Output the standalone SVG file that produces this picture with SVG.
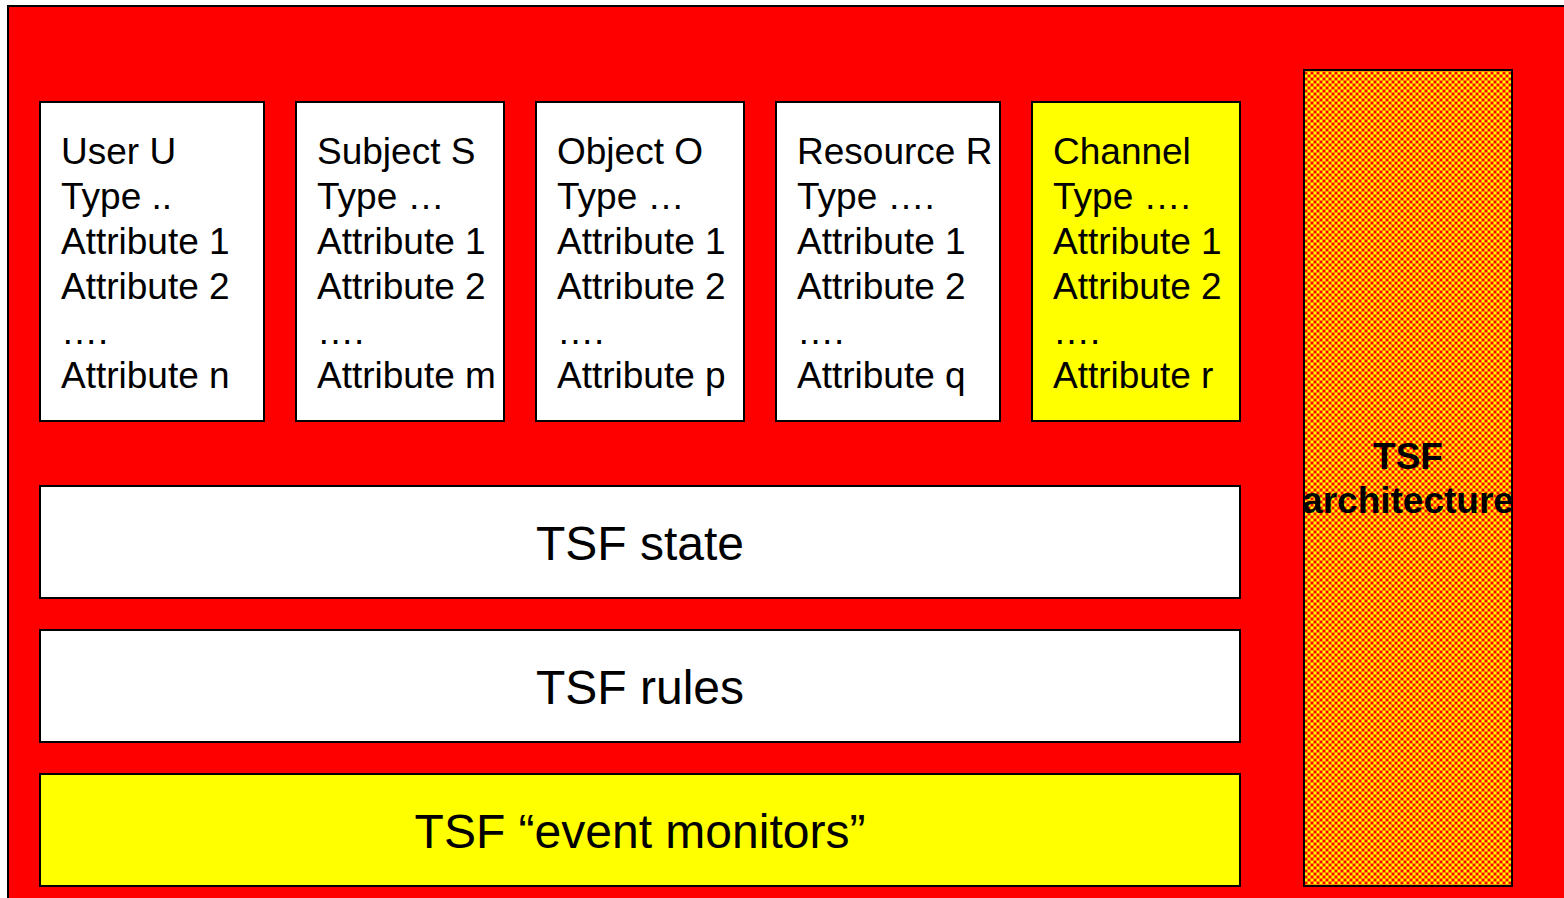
<svg xmlns="http://www.w3.org/2000/svg" width="1564" height="898" viewBox="0 0 1564 898">
<style>
.box{stroke:#000;stroke-width:2}
.w{fill:#fff}
.y{fill:#ffff00}
.t{font-family:"Liberation Sans",Arial,sans-serif;font-size:37px;fill:#000}
.big{font-family:"Liberation Sans",Arial,sans-serif;font-size:48px;fill:#000;text-anchor:middle}
.arch{font-family:"Liberation Sans",Arial,sans-serif;font-size:37px;font-weight:bold;fill:#000;text-anchor:middle}
</style>
<defs>
<pattern id="chk" width="6" height="6" patternUnits="userSpaceOnUse">
<rect width="6" height="6" fill="#ff8800"/>
<rect x="0" y="0" width="2" height="2" fill="#ffff00"/>
<rect x="3" y="3" width="2" height="2" fill="#ffff00"/>
<rect x="3" y="0" width="2" height="2" fill="#ff0000"/>
<rect x="0" y="3" width="2" height="2" fill="#ff0000"/>
</pattern>
</defs>
<rect width="1564" height="898" fill="#fff"/>
<rect id="bg" x="8" y="6" width="1570" height="900" fill="#ff0000" stroke="#000" stroke-width="2"/>
<g id="user"><rect class="box w" x="40" y="102" width="224" height="319"/>
<text class="t"><tspan x="61" y="164">User U</tspan><tspan x="61" y="209">Type ..</tspan><tspan x="61" y="254">Attribute 1</tspan><tspan x="61" y="299">Attribute 2</tspan><tspan x="61" y="344">….</tspan><tspan x="61" y="388">Attribute n</tspan></text></g>
<g id="subject"><rect class="box w" x="296" y="102" width="208" height="319"/>
<text class="t"><tspan x="317" y="164">Subject S</tspan><tspan x="317" y="209">Type …</tspan><tspan x="317" y="254">Attribute 1</tspan><tspan x="317" y="299">Attribute 2</tspan><tspan x="317" y="344">….</tspan><tspan x="317" y="388">Attribute m</tspan></text></g>
<g id="object"><rect class="box w" x="536" y="102" width="208" height="319"/>
<text class="t"><tspan x="557" y="164">Object O</tspan><tspan x="557" y="209">Type …</tspan><tspan x="557" y="254">Attribute 1</tspan><tspan x="557" y="299">Attribute 2</tspan><tspan x="557" y="344">….</tspan><tspan x="557" y="388">Attribute p</tspan></text></g>
<g id="resource"><rect class="box w" x="776" y="102" width="224" height="319"/>
<text class="t"><tspan x="797" y="164">Resource R</tspan><tspan x="797" y="209">Type ….</tspan><tspan x="797" y="254">Attribute 1</tspan><tspan x="797" y="299">Attribute 2</tspan><tspan x="797" y="344">….</tspan><tspan x="797" y="388">Attribute q</tspan></text></g>
<g id="channel"><rect class="box y" x="1032" y="102" width="208" height="319"/>
<text class="t"><tspan x="1053" y="164">Channel</tspan><tspan x="1053" y="209">Type ….</tspan><tspan x="1053" y="254">Attribute 1</tspan><tspan x="1053" y="299">Attribute 2</tspan><tspan x="1053" y="344">….</tspan><tspan x="1053" y="388">Attribute r</tspan></text></g>
<g id="state"><rect class="box w" x="40" y="486" width="1200" height="112"/>
<text class="big" x="640" y="560">TSF state</text></g>
<g id="rules"><rect class="box w" x="40" y="630" width="1200" height="112"/>
<text class="big" x="640" y="704">TSF rules</text></g>
<g id="monitors"><rect class="box y" x="40" y="774" width="1200" height="112"/>
<text class="big" x="640" y="848">TSF “event monitors”</text></g>
<g id="architecture"><rect class="box" x="1304" y="70" width="208" height="816" fill="url(#chk)"/>
<text class="arch"><tspan x="1408" y="469">TSF</tspan><tspan x="1408" y="513">architecture</tspan></text></g>
<g id="connectors"/>
</svg>
